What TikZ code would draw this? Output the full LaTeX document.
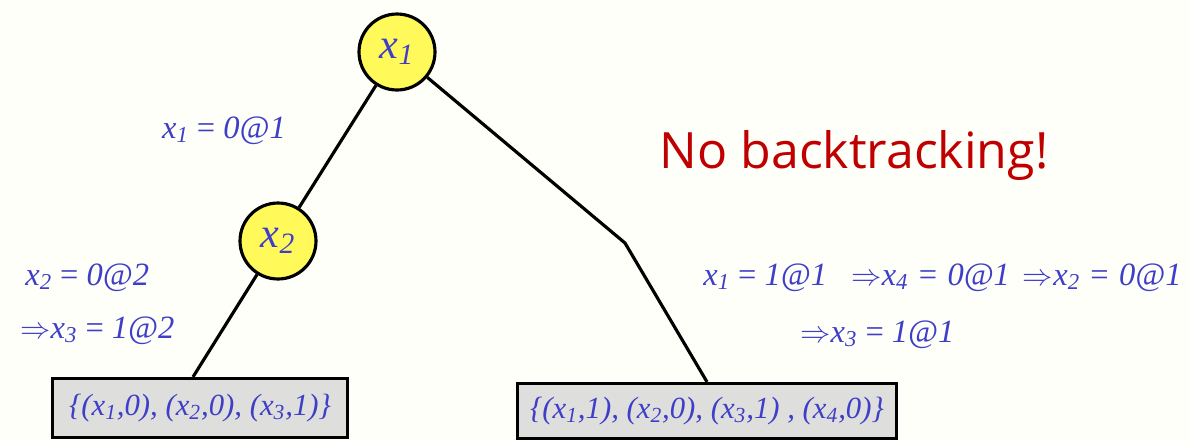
\documentclass[tikz,border=0pt]{standalone}
\usepackage{fontspec}
\setmainfont{Liberation Serif}
\newfontfamily\slidefont{Open Sans}
\usetikzlibrary{positioning}
\definecolor{eqblue}{RGB}{62,62,200}
\definecolor{slidered}{RGB}{192,0,0}
\definecolor{boxgray}{RGB}{222,222,220}
\definecolor{varyellow}{RGB}{255,250,90}
\definecolor{paper}{RGB}{255,255,250}
\newcommand{\xv}[1]{\textit{x\textsubscript{#1}}}
\newcommand{\impl}{$\Rightarrow$}

\begin{document}
\begin{tikzpicture}[x=0.02cm,y=-0.02cm,
    var/.style={circle,draw,line width=1.8pt,fill=varyellow,minimum size=1.52cm,
      inner sep=0pt,text=eqblue,font=\fontsize{24}{28}\selectfont},
    leaf/.style={draw,line width=1.8pt,fill=boxgray,text=eqblue,inner sep=0pt,
      font=\fontsize{17.5}{21}\selectfont\itshape},
    lbl/.style={text=eqblue,inner sep=0pt,font=\fontsize{18.5}{22}\selectfont},
    branch/.style={line width=1.8pt}]
    \fill[paper] (0,0) rectangle (1189,440);
    \useasboundingbox (0,0) rectangle (1189,440);

    % variables and leaves
    \node[var] (x1) at (397,52) {\xv{1}};
    \node[var] (x2) at (278,241) {\xv{2}};
    \node[leaf,minimum width=5.9cm,minimum height=1.18cm] (L) at (200,408) {\{(\xv{1},0), (\xv{2},0), (\xv{3},1)\}};
    \node[leaf,minimum width=7.58cm,minimum height=1.1cm] (R) at (707,411) {\{(\xv{1},1), (\xv{2},0), (\xv{3},1) , (\xv{4},0)\}};
    \coordinate (kink) at (625,243);

    \draw[branch] (x1) -- (x2);
    \draw[branch] (x2) -- (L.north -| 193,0);
    \draw[branch] (x1) -- (kink) -- (R.north);

    % decisions
    \node[lbl,anchor=base] (d1) at (224,138) {\xv{1} = \textit{0@1}};
    \node[lbl,anchor=base west] (d2) at (25,285) {\xv{2} = \textit{0@2}};
    \node[lbl,anchor=base west] (d3) at (20,338) {\impl\xv{3} = \textit{1@2}};
    \node[lbl,anchor=base west] (d4) at (703,285) {\xv{1} = \textit{1@1}\hspace{0.75em}\impl\xv{4}\hspace{0.32em}=\hspace{0.32em}\textit{0@1}\hspace{0.4em}\impl\xv{2}\hspace{0.32em}=\hspace{0.32em}\textit{0@1}};
    \node[lbl,anchor=base west] (d5) at (800,342) {\impl\xv{3} = \textit{1@1}};

    \node[anchor=base,text=slidered,font=\slidefont\fontsize{28.5}{34}\selectfont] (nb) at (854,168) {No backtracking!};
\end{tikzpicture}
\end{document}
